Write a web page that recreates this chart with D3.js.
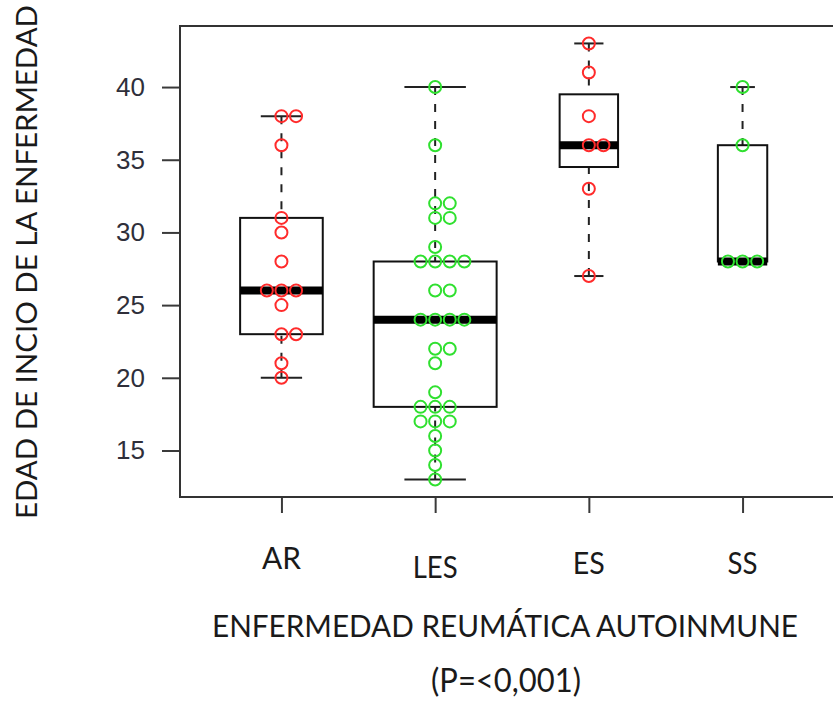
<!DOCTYPE html>
<html>
<head>
<meta charset="utf-8">
<script src="https://cdn.jsdelivr.net/npm/d3@7"></script>
<style>
body{margin:0;background:#fff;}
</style>
</head>
<body>
<div class="canvas"></div>
<script>
// data
const categories=['AR','LES','ES','SS'];
const edadAR=[38,38,36,31,30,28,26,26,26,25,23,23,21,20];
const edadLES=[40,36,32,32,31,31,29,28,28,28,28,26,26,24,24,24,24,22,22,21,19,18,18,18,17,17,17,16,15,14,13];
const edadES=[43,41,38,36,36,33,27];
const edadSS=[40,36,28,28,28];
const yTicks=[15,20,25,30,35,40];

const groups=[edadAR,edadLES,edadES,edadSS];
const colors={AR:'#ff2b2b',LES:'#2fe02f',ES:'#ff2b2b',SS:'#2fe02f'};

const width=833, height=702;
const svg=d3.select('.canvas').append('svg')
.attr('width',width)
.attr('height',height);

// R style: 4% padding around the data range
const x=d3.scaleLinear()
.domain([0.34,4.66])
.range([180,844]);

const y=d3.scaleLinear()
.domain([11.8,44.2])
.range([497,26]);

// Tukey five numbers like R's fivenum
function fivenum(v){
    const s=v.slice().sort((a,b)=>a-b);
    const n=s.length;
    const n4=Math.floor((n+3)/2)/2;
    const d=[1,n4,(n+1)/2,n+1-n4,n];
    return d.map(p=>0.5*(s[Math.floor(p)-1]+s[Math.ceil(p)-1]));
}

const maxN=d3.max(groups,g=>g.length);
const stats=groups.map((g,i)=>{
    const f=fivenum(g);
    const iqr=f[3]-f[1];
    const lo=d3.min(g.filter(v=>v>=f[1]-1.5*iqr));
    const hi=d3.max(g.filter(v=>v<=f[3]+1.5*iqr));
    return {cat:categories[i],pos:i+1,q1:f[1],med:f[2],q3:f[3],lo:lo,hi:hi,
        w:0.8*Math.sqrt(g.length)/Math.sqrt(maxN)};
});

// axes
const yAxis=d3.axisLeft(y).tickValues(yTicks).tickSize(18).tickPadding(17);
const yAxisGroup=svg.append('g')
.attr('transform',`translate(${x.range()[0]},0)`)
.call(yAxis);
yAxisGroup.select('.domain').remove();
yAxisGroup.selectAll('line').attr('stroke','#3a3a3a').attr('stroke-width',2);
yAxisGroup.selectAll('text')
.attr('font-family','"Liberation Sans", Arial, sans-serif')
.attr('font-size',26)
.attr('fill','#2f2f3a');

const xAxis=d3.axisBottom(x).tickValues([1,2,3,4]).tickFormat('').tickSize(16);
const xAxisGroup=svg.append('g')
.attr('transform',`translate(0,${y.range()[0]})`)
.call(xAxis);
xAxisGroup.select('.domain').remove();
xAxisGroup.selectAll('line').attr('stroke','#3a3a3a').attr('stroke-width',2);

// frame
svg.append('rect')
.attr('x',x.range()[0])
.attr('y',y.range()[1])
.attr('width',x.range()[1]-x.range()[0])
.attr('height',y.range()[0]-y.range()[1])
.attr('fill','none')
.attr('stroke','#333')
.attr('stroke-width',2);

const unit=x(1)-x(0);

const boxes=svg.selectAll('g.box')
.data(stats)
.enter().append('g')
.attr('class','box');

// whiskers (drawn from extreme to hinge)
boxes.append('line')
.attr('x1',d=>x(d.pos)).attr('x2',d=>x(d.pos))
.attr('y1',d=>y(d.hi)).attr('y2',d=>y(d.q3))
.attr('stroke','#222').attr('stroke-width',2).attr('stroke-dasharray','8,9');
boxes.append('line')
.attr('x1',d=>x(d.pos)).attr('x2',d=>x(d.pos))
.attr('y1',d=>y(d.lo)).attr('y2',d=>y(d.q1))
.attr('stroke','#222').attr('stroke-width',2).attr('stroke-dasharray','8,9');

// staples
boxes.append('line')
.attr('x1',d=>x(d.pos-d.w/4)).attr('x2',d=>x(d.pos+d.w/4))
.attr('y1',d=>y(d.hi)).attr('y2',d=>y(d.hi))
.attr('stroke','#222').attr('stroke-width',2);
boxes.append('line')
.attr('x1',d=>x(d.pos-d.w/4)).attr('x2',d=>x(d.pos+d.w/4))
.attr('y1',d=>y(d.lo)).attr('y2',d=>y(d.lo))
.attr('stroke','#222').attr('stroke-width',2);

boxes.append('rect')
.attr('x',d=>x(d.pos-d.w/2))
.attr('y',d=>y(d.q3))
.attr('width',d=>d.w*unit)
.attr('height',d=>y(d.q1)-y(d.q3))
.attr('fill','none')
.attr('stroke','#111')
.attr('stroke-width',2);

boxes.append('line')
.attr('x1',d=>x(d.pos-d.w/2)).attr('x2',d=>x(d.pos+d.w/2))
.attr('y1',d=>y(d.med)).attr('y2',d=>y(d.med))
.attr('stroke','#000').attr('stroke-width',8);

// points, ties spread sideways
const points=[];
groups.forEach((g,i)=>{
    d3.groups(g,v=>v).forEach(([v,arr])=>{
        const n=arr.length;
        arr.forEach((_,k)=>{
            points.push({cat:categories[i],pos:i+1+(k-Math.floor((n-1)/2))*0.095,value:v});
        });
    });
});

svg.selectAll('circle')
.data(points)
.enter().append('circle')
.attr('cx',d=>x(d.pos))
.attr('cy',d=>y(d.value))
.attr('r',6)
.attr('fill','none')
.attr('stroke',d=>colors[d.cat])
.attr('stroke-width',2);

// category labels
const labelFont='Lato, "Open Sans", sans-serif';
const labelBase={AR:569,LES:578,ES:574,SS:574};
const labelLen={AR:39,LES:45,ES:32,SS:30};
svg.selectAll('text.cat')
.data(categories)
.enter().append('text')
.attr('class','cat')
.attr('x',d=>x(categories.indexOf(d)+1))
.attr('y',d=>labelBase[d])
.attr('text-anchor','middle')
.attr('font-family',labelFont)
.attr('font-size',30)
.attr('fill','#1a1a1a')
.attr('textLength',d=>labelLen[d])
.attr('lengthAdjust','spacingAndGlyphs')
.text(d=>d);

svg.append('text')
.attr('x',505)
.attr('y',637)
.attr('text-anchor','middle')
.attr('font-family',labelFont)
.attr('font-size',31)
.attr('fill','#1a1a1a')
.attr('textLength',586)
.attr('lengthAdjust','spacingAndGlyphs')
.text('ENFERMEDAD REUMÁTICA AUTOINMUNE');

svg.append('text')
.attr('x',506)
.attr('y',692)
.attr('text-anchor','middle')
.attr('font-family',labelFont)
.attr('font-size',32)
.attr('fill','#1a1a1a')
.attr('textLength',150)
.attr('lengthAdjust','spacingAndGlyphs')
.text('(P=<0,001)');

svg.append('text')
.attr('transform','translate(37,262) rotate(-90)')
.attr('text-anchor','middle')
.attr('font-family',labelFont)
.attr('font-size',29)
.attr('fill','#1a1a1a')
.attr('textLength',514)
.attr('lengthAdjust','spacingAndGlyphs')
.text('EDAD DE INCIO DE LA ENFERMEDAD');
</script>
</body>
</html>
